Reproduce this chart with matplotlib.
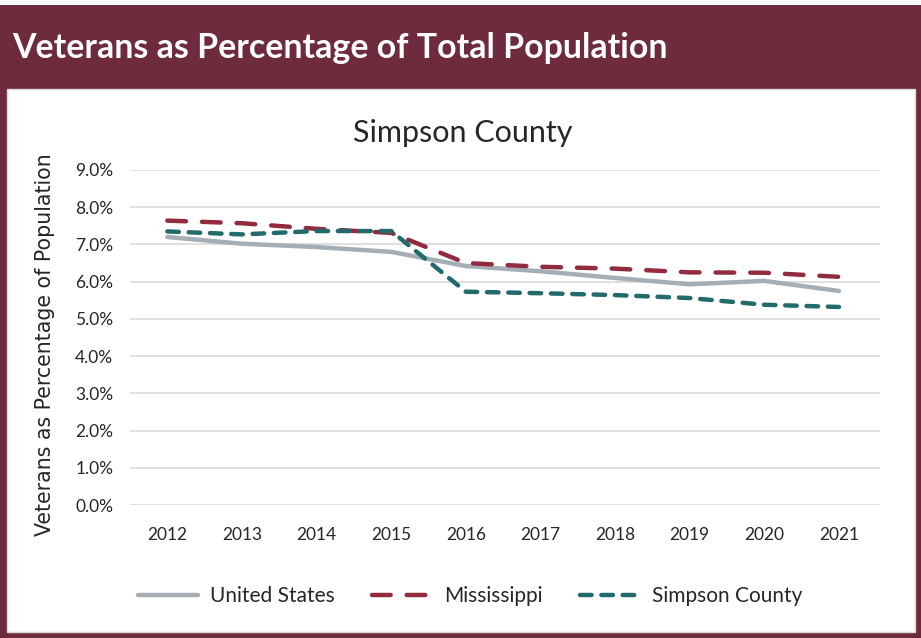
import matplotlib
matplotlib.use("Agg")
from matplotlib import pyplot as plt
from matplotlib.patches import Rectangle
from matplotlib.ticker import FuncFormatter

# data
years = [2012, 2013, 2014, 2015, 2016, 2017, 2018, 2019, 2020, 2021]
united_states = [7.20, 7.02, 6.93, 6.80, 6.42, 6.28, 6.10, 5.93, 6.02, 5.75]
mississippi = [7.64, 7.57, 7.42, 7.31, 6.50, 6.40, 6.35, 6.25, 6.24, 6.13]
simpson_county = [7.35, 7.27, 7.36, 7.36, 5.73, 5.69, 5.64, 5.56, 5.38, 5.32]

plt.rcParams['font.family'] = ['Lato', 'DejaVu Sans']

maroon = "#6D2B3D"
c_us = "#A5ADB5"
c_ms = "#922B3E"
c_sc = "#236A6B"
txt = "#262626"

fig = plt.figure(figsize=(9.21, 6.38), dpi=100)
fig.patch.set_facecolor("white")

#helpers: pixel -> figure fraction
W, H = 921, 638
def fx(px):
    return px / W
def fy(py):
    return 1 - py / H

#maroon frame + header
fig.patches.append(Rectangle((0, 0), 1, fy(5), transform=fig.transFigure,
                             facecolor=maroon, edgecolor="none", zorder=0))
fig.patches.append(Rectangle((fx(7), fy(632)), fx(908), (632 - 89) / H,
                             transform=fig.transFigure, facecolor="white",
                             edgecolor="#D9D9D9", linewidth=1.0, zorder=1))
fig.text(fx(12), fy(48), "Veterans as Percentage of Total Population",
         color="white", fontsize=24.4, fontweight="bold", va="center", ha="left")

ax = fig.add_axes([fx(130), fy(505), fx(880) - fx(130), (505 - 170) / H])
ax.set_zorder(2)
ax.patch.set_alpha(0)

ax.plot(years, united_states, color=c_us, linewidth=3.2, solid_capstyle="round",
        label="United States")
ax.plot(years, mississippi, color=c_ms, linewidth=3.2, dashes=(4.2, 3.6),
        dash_capstyle="round", label="Mississippi")
ax.plot(years, simpson_county, color=c_sc, linewidth=3.2, dashes=(2.6, 2.2),
        dash_capstyle="round", label="Simpson County")

ax.set_xlim(2011.5, 2021.55)
ax.set_ylim(0, 9)
ax.set_yticks([0, 1, 2, 3, 4, 5, 6, 7, 8, 9])
ax.yaxis.set_major_formatter(FuncFormatter(lambda v, p: f"{v:.1f}%"))
ax.set_xticks(years)
ax.grid(axis="y", color="#D9D9D9", linewidth=1.2)
ax.set_axisbelow(True)
for s in ax.spines.values():
    s.set_visible(False)
ax.tick_params(length=0, labelsize=12.5, colors=txt)
ax.tick_params(axis="x", pad=16)
ax.tick_params(axis="y", pad=12)

#axis label and chart title placed like the reference
fig.text(fx(45), fy(345), "Veterans as Percentage of Population",
         family="DejaVu Sans", fontsize=14.8, color=txt, rotation=90,
         ha="center", va="center")
fig.text(fx(463), fy(133), "Simpson County", fontsize=22, color=txt,
         ha="center", va="center")

leg = fig.legend(*ax.get_legend_handles_labels(), loc="center",
                 bbox_to_anchor=(fx(470), fy(596)), ncol=3, frameon=False,
                 fontsize=15, handlelength=2.9, columnspacing=1.8,
                 handletextpad=0.55)
for t in leg.get_texts():
    t.set_color(txt)

fig.savefig("out.png", dpi=100, facecolor=fig.get_facecolor())
